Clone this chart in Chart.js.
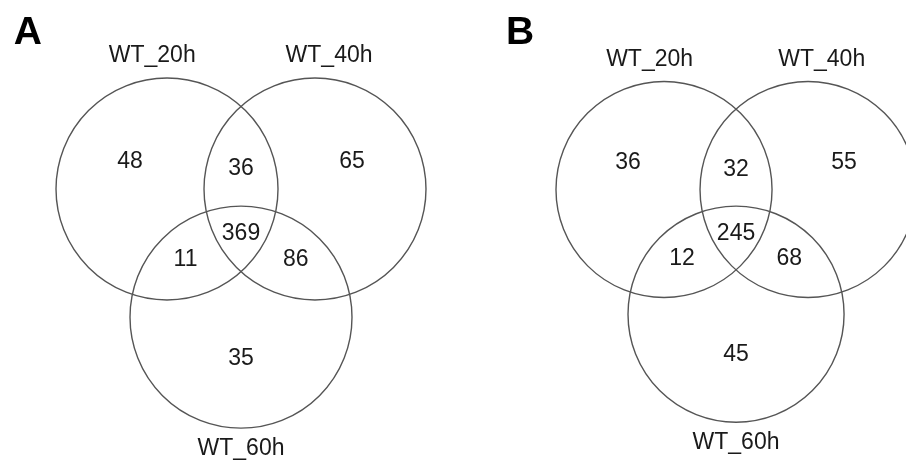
<!DOCTYPE html>
<html>
<head>
<meta charset="utf-8">
<script src="https://cdn.jsdelivr.net/npm/chart.js@4.4.1/dist/chart.umd.min.js"></script>
<style>
    html, body { margin: 0; padding: 0; background: #fff; }
    #wrap { display: flex; width: 906px; height: 463px; }
    .panel { width: 453px; height: 463px; }
</style>
</head>
<body>
<div id="wrap">
    <div class="panel"><canvas id="vennA" width="453" height="463"></canvas></div>
    <div class="panel"><canvas id="vennB" width="453" height="463"></canvas></div>
</div>
<script>
// sets and region counts (order: 20h only, 40h only, 60h only, 20&40, 20&60, 40&60, all)
const setNames = ['WT_20h', 'WT_40h', 'WT_60h'];
const regionNames = ['WT_20h only', 'WT_40h only', 'WT_60h only', 'WT_20h & WT_40h', 'WT_20h & WT_60h', 'WT_40h & WT_60h', 'all three'];
const countsA = [48, 65, 35, 36, 11, 86, 369];
const countsB = [36, 55, 45, 32, 12, 68, 245];
const panelLetters = ['A', 'B'];

// venn layout, in circle units (centres 2 apart, radius 1.5)
const circleCentres = [{x: -1, y: 0}, {x: 1, y: 0}, {x: 0, y: -1.732}];
const circleR = 1.5;
const regionSpots = [
    {x: -1.5, y: 0.37}, {x: 1.5, y: 0.37}, {x: 0, y: -2.29},
    {x: 0, y: 0.28}, {x: -0.75, y: -0.96}, {x: 0.74, y: -0.96}, {x: 0, y: -0.61}
];
const nameSpots = [{x: -1.2, y: 1.8}, {x: 1.19, y: 1.8}, {x: 0, y: -3.51}];

const FONT = '"Liberation Sans", Arial, sans-serif';

const vennText = {
    id: 'vennText',
    afterDatasetsDraw(chart, args, opts) {
        const c = chart.ctx, sx = chart.scales.x, sy = chart.scales.y;
        c.save();
        c.fillStyle = '#1a1a1a';
        c.textAlign = 'center';
        c.textBaseline = 'middle';
        c.font = '23px ' + FONT;
        opts.counts.forEach((v, i) => {
            c.fillText(String(v), sx.getPixelForValue(regionSpots[i].x), sy.getPixelForValue(regionSpots[i].y));
        });
        setNames.forEach((n, i) => {
            c.fillText(n, sx.getPixelForValue(nameSpots[i].x), sy.getPixelForValue(nameSpots[i].y));
        });
        c.font = 'bold 39px ' + FONT;
        c.fillStyle = '#000';
        c.fillText(opts.letter, sx.getPixelForValue(opts.letterAt.x), sy.getPixelForValue(opts.letterAt.y));
        c.restore();
    }
};

function makeVenn(id, counts, letter, letterAt, xr, yr) {
    const ctx = document.getElementById(id).getContext('2d');
    return new Chart(ctx, {
        type: 'scatter',
        data: {
            datasets: setNames.map((name, i) => ({
                label: name,
                data: [circleCentres[i]],
                pointRadius: function (context) {
                    const s = context.chart.scales.x;
                    if (!s) return 0;
                    return Math.abs(s.getPixelForValue(circleR) - s.getPixelForValue(0));
                },
                pointBackgroundColor: 'rgba(0,0,0,0)',
                pointBorderColor: '#555555',
                pointBorderWidth: 1.4,
                clip: false
            }))
        },
        options: {
            responsive: false,
            animation: false,
            events: [],
            layout: { padding: 0, autoPadding: false },
            plugins: {
                legend: { display: false },
                tooltip: { enabled: false },
                vennText: { counts: counts, letter: letter, letterAt: letterAt }
            },
            scales: {
                x: { type: 'linear', display: false, min: xr[0], max: xr[1] },
                y: { type: 'linear', display: false, min: yr[0], max: yr[1] }
            }
        },
        plugins: [vennText]
    });
}

makeVenn('vennA', countsA, panelLetters[0], {x: -2.88, y: 2.11}, [-3.257, 2.865], [-3.703, 2.554]);
makeVenn('vennB', countsB, panelLetters[1], {x: -3.0, y: 2.17}, [-3.93, 2.36], [-3.799, 2.632]);
</script>
</body>
</html>
